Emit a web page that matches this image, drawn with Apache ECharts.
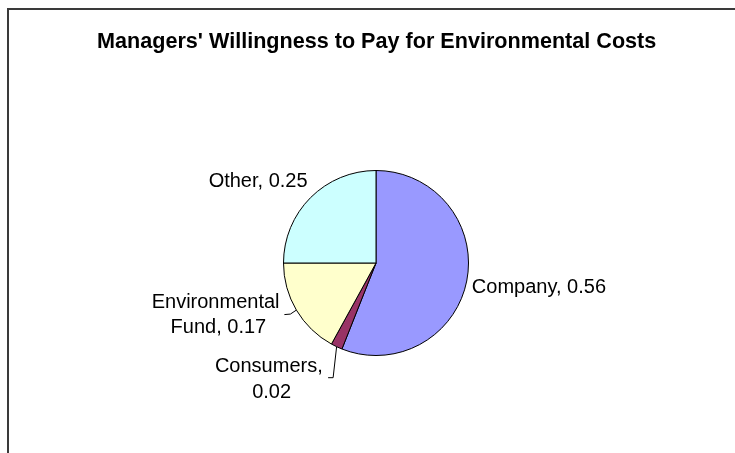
<!DOCTYPE html>
<html>
<head>
<meta charset="utf-8">
<title>Managers' Willingness to Pay for Environmental Costs</title>
<script src="https://cdn.jsdelivr.net/npm/echarts@6/dist/echarts.min.js"></script>
<style>
  html, body { margin: 0; padding: 0; background: #ffffff; }
  #chart { width: 735px; height: 453px; }
</style>
</head>
<body>
<div id="chart"></div>
<script>
// Who should pay for environmental costs (share of managers)
const categories = ['Company', 'Consumers', 'Environmental Fund', 'Other'];
const shares = [0.56, 0.02, 0.17, 0.25];
const sliceColors = ['#9999FF', '#993366', '#FFFFCC', '#CCFFFF'];
const chartTitle = "Managers' Willingness to Pay for Environmental Costs";

// Labels that wrap onto two lines, and those that get a leader line
const wrappedLabels = ['Consumers', 'Environmental Fund'];
const ledLabels = ['Consumers', 'Environmental Fund'];

// Label placement relative to the point where each slice meets the rim:
// [dx, dy, align], plus leader-line bends relative to that same point.
const labelPlacement = {
  'Company': { dx: 5, dy: 7, align: 'left' },
  'Consumers': { dx: -65, dy: 33, align: 'center', line: [[0, 0], [-3.5, 31], [-8.5, 31]] },
  'Environmental Fund': { dx: -78, dy: 5, align: 'center', line: [[0, 0], [-6, 4], [-12, 4.5]] },
  'Other': { dx: -3, dy: -16, align: 'right' }
};

const chart = echarts.init(document.getElementById('chart'), null, { renderer: 'canvas' });

const pieData = categories.map((name, i) => {
  const item = {
    name: name,
    value: shares[i],
    itemStyle: { color: sliceColors[i] }
  };
  if (wrappedLabels.indexOf(name) >= 0) {
    item.label = { width: 135, overflow: 'break' };
  }
  if (ledLabels.indexOf(name) < 0) {
    item.labelLine = { lineStyle: { opacity: 0 } };
  }
  return item;
});

chart.setOption({
  animation: false,
  backgroundColor: '#ffffff',
  title: {
    text: chartTitle,
    left: 92,
    top: 26,
    textStyle: {
      fontFamily: '"Liberation Sans", Arial, sans-serif',
      fontWeight: 'bold',
      fontSize: 21.6,
      color: '#000000'
    }
  },
  graphic: [{
    type: 'rect',
    silent: true,
    shape: { x: 8, y: 9, width: 760, height: 480 },
    style: { fill: 'none', stroke: '#3a3a3a', lineWidth: 2 }
  }],
  series: [{
    type: 'pie',
    center: [376, 263],
    radius: 92.5,
    startAngle: 90,
    clockwise: true,
    avoidLabelOverlap: false,
    data: pieData,
    itemStyle: { borderColor: '#000000', borderWidth: 1 },
    emphasis: { disabled: true },
    label: {
      show: true,
      position: 'outside',
      formatter: '{b}, {c}',
      fontFamily: '"Liberation Sans", Arial, sans-serif',
      fontSize: 20,
      lineHeight: 25.5,
      color: '#000000',
      align: 'center'
    },
    labelLine: {
      show: true,
      length: 10,
      length2: 5,
      smooth: false,
      lineStyle: { color: '#000000', width: 1 }
    },
    labelLayout: function (params) {
      const name = categories[params.dataIndex];
      const place = labelPlacement[name];
      const pts = params.labelLinePoints;
      if (!place || !pts) { return {}; }
      const ax = pts[0][0];
      const ay = pts[0][1];
      const out = {
        x: ax + place.dx,
        y: ay + place.dy,
        align: place.align,
        verticalAlign: 'middle'
      };
      out.labelLinePoints = place.line
        ? place.line.map(p => [ax + p[0], ay + p[1]])
        : [[ax, ay], [ax, ay], [ax, ay]];
      return out;
    }
  }]
});
</script>
</body>
</html>
